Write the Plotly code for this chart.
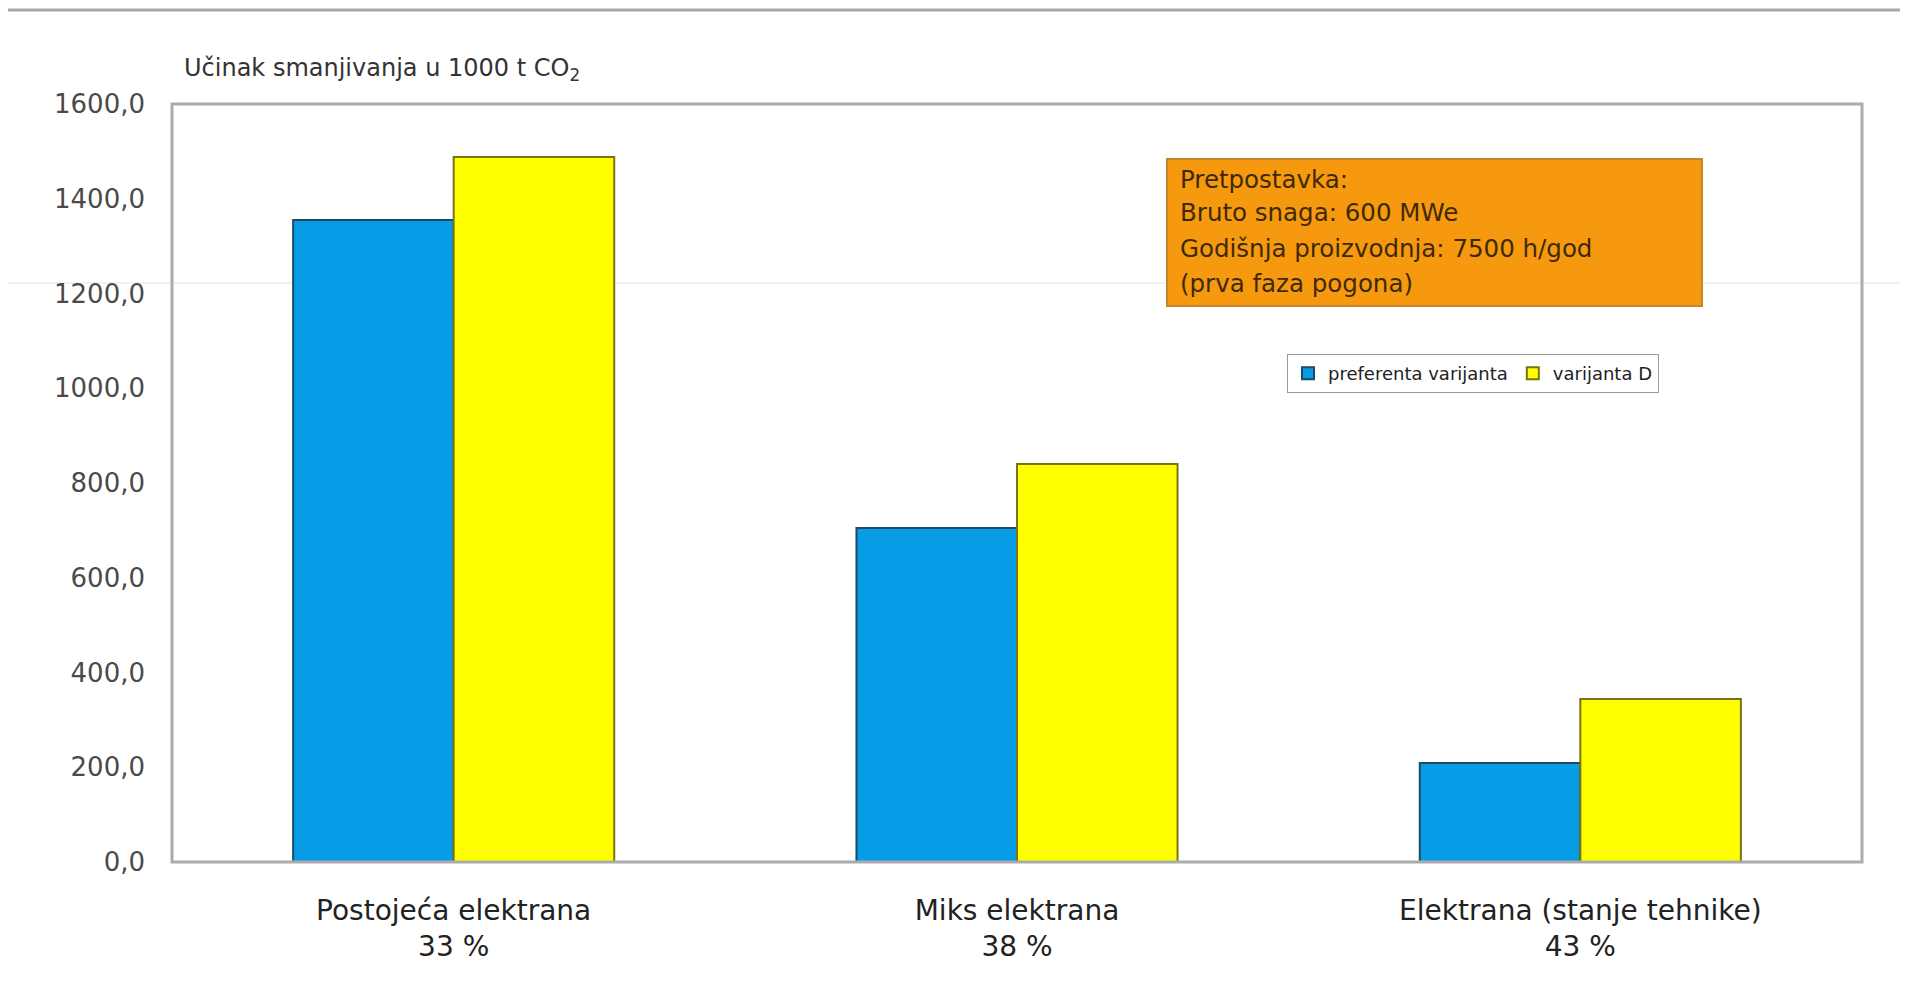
import plotly.graph_objects as go

# ---- data ----
categories = ["Postojeća elektrana<br>33 %", "Miks elektrana<br>38 %", "Elektrana (stanje tehnike)<br>43 %"]
preferentna = [1355.0, 705.0, 209.0]
varijanta_d = [1488.0, 840.0, 344.0]
series_names = ["preferenta varijanta", "varijanta D"]
y_ticks = [0, 200, 400, 600, 800, 1000, 1200, 1400, 1600]
axis_title = "Učinak smanjivanja u 1000 t CO<sub>2</sub>"
note_lines = ["Pretpostavka:", "Bruto snaga: 600 MWe", "Godišnja proizvodnja: 7500 h/god", "(prva faza pogona)"]

# page is offset by the default 8px body margin
OFF = 8
W, H = 1900, 980
# plot area in page pixels
PL, PR, PT, PB = 172, 1862, 104, 862
L, R, T, B = PL - OFF, PR - OFF, PT - OFF, PB - OFF


def px(x):  # page x -> paper
    return (x - OFF - L) / (R - L)


def py(y):  # page y -> paper
    return (B - (y - OFF)) / (B - T)


fig = go.Figure()
fig.add_trace(go.Bar(x=categories, y=preferentna, name=series_names[0],
                     marker=dict(color="#079CE6", line=dict(color="#1F4A66", width=2))))
fig.add_trace(go.Bar(x=categories, y=varijanta_d, name=series_names[1],
                     marker=dict(color="#FFFF00", line=dict(color="#7A7410", width=2))))

shapes = [
    # page decorations
    dict(type="line", xref="paper", yref="paper", x0=px(OFF), x1=px(W + OFF), y0=py(10), y1=py(10),
         line=dict(color="#A8A8A8", width=3), layer="below"),
    dict(type="line", xref="paper", yref="paper", x0=px(OFF), x1=px(W + OFF), y0=py(283), y1=py(283),
         line=dict(color="#E2E2FA", width=1), layer="below"),
    # plot frame
    dict(type="rect", xref="paper", yref="paper", x0=0, x1=1, y0=0, y1=1,
         line=dict(color="#ABABAB", width=3), fillcolor="rgba(0,0,0,0)"),
    # note box
    dict(type="rect", xref="paper", yref="paper", x0=px(1167), x1=px(1702), y0=py(306), y1=py(159),
         fillcolor="#F6990F", line=dict(color="#C4862A", width=2)),
]

annotations = [
    dict(text=axis_title, xref="paper", yref="paper", x=px(182), y=py(70),
         xanchor="left", yanchor="middle", showarrow=False,
         font=dict(family="DejaVu Sans", size=24, color="#333333")),
]
note_y = [179, 212, 249, 283]
for line, yy in zip(note_lines, note_y):
    annotations.append(dict(text=line, xref="paper", yref="paper", x=px(1178), y=py(yy),
                            xanchor="left", yanchor="middle", showarrow=False,
                            font=dict(family="DejaVu Sans", size=24.5, color="#3E2A05")))

fig.update_layout(
    width=W, height=H,
    margin=dict(l=L, r=W - R, t=T, b=H - B, pad=0),
    paper_bgcolor="white", plot_bgcolor="white",
    barmode="group", bargap=0.43, bargroupgap=0,
    separators=", ",
    showlegend=True,
    legend=dict(orientation="h", x=px(1287), y=py(354), xanchor="left", yanchor="top",
                bgcolor="white", bordercolor="#9A9A9A", borderwidth=1,
                font=dict(family="DejaVu Sans", size=18, color="#222222"),
                itemwidth=30, traceorder="normal"),
    xaxis=dict(showgrid=False, showline=False, ticks="", zeroline=False,
               tickfont=dict(family="DejaVu Sans", size=28, color="#222222"),
               ticklabelstandoff=29),
    yaxis=dict(range=[0, 1600], tickvals=y_ticks, tickformat=".1f", showgrid=False,
               zeroline=False, showline=False, ticks="",
               tickfont=dict(family="DejaVu Sans", size=26, color="#4A4A4A"),
               ticklabelstandoff=26),
    shapes=shapes,
    annotations=annotations,
)

fig.write_html("out.html")
